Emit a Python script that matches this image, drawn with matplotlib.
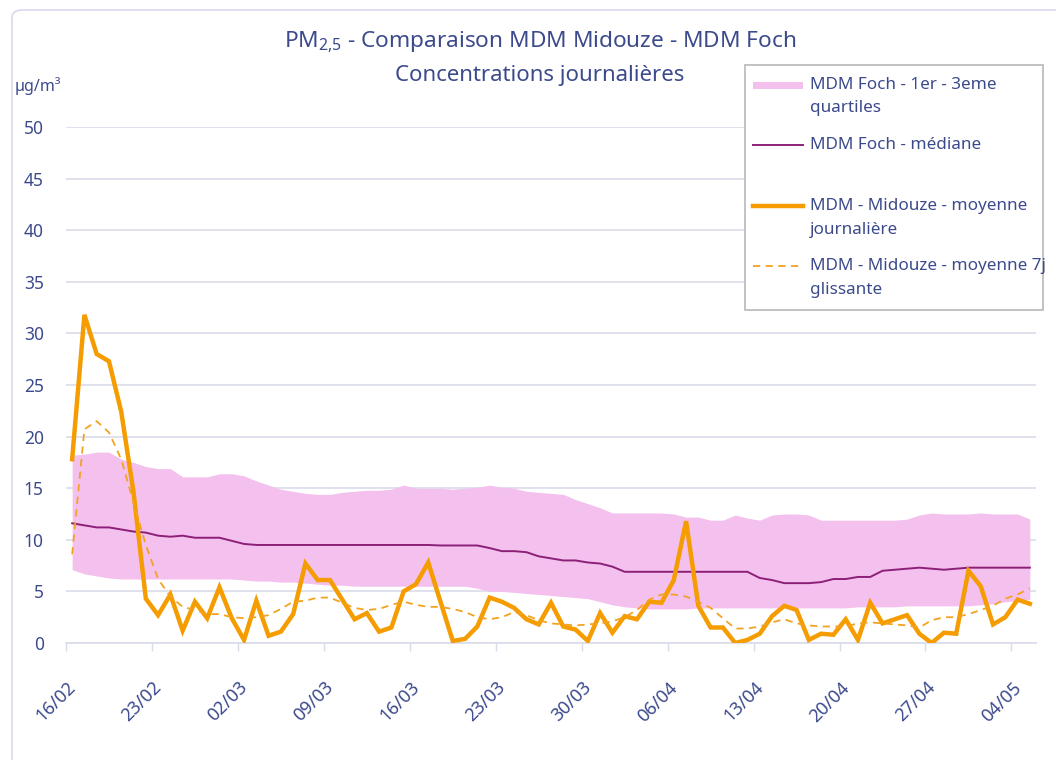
"""PM2,5 daily concentrations: MDM Midouze vs MDM Foch quartile band."""

import matplotlib

matplotlib.use("Agg")
import matplotlib.dates as mdates
import matplotlib.pyplot as plt
import matplotlib.transforms as mtransforms
import pandas as pd
from matplotlib.lines import Line2D
from matplotlib.patches import FancyBboxPatch, Rectangle

plt.rcParams["font.family"] = ["Noto Sans", "DejaVu Sans"]
plt.rcParams["mathtext.fontset"] = "custom"
plt.rcParams["mathtext.rm"] = "Noto Sans"

START = "2021-02-16"
N_DAYS = 79

# MDM Midouze - daily mean (µg/m3)
daily_mean = [
    17.8, 31.8, 28.0, 27.3, 22.4, 14.6, 4.3, 2.7, 4.7, 1.2,
    4.0, 2.4, 5.4, 2.4, 0.3, 4.1, 0.7, 1.1, 2.8, 7.7,
    6.1, 6.1, 4.2, 2.3, 2.9, 1.1, 1.5, 5.0, 5.7, 7.8,
    4.0, 0.2, 0.4, 1.6, 4.4, 4.0, 3.4, 2.3, 1.8, 3.9,
    1.6, 1.3, 0.2, 2.9, 1.0, 2.6, 2.3, 4.0, 3.9, 6.1,
    11.8, 3.6, 1.5, 1.5, 0.0, 0.3, 0.9, 2.6, 3.6, 3.2,
    0.3, 0.9, 0.8, 2.3, 0.3, 3.9, 1.9, 2.3, 2.7, 0.9,
    0.0, 1.0, 0.9, 7.0, 5.5, 1.8, 2.5, 4.2, 3.8,
]

# MDM Midouze - 7-day rolling mean
rolling_7d = [
    8.6, 20.7, 21.5, 20.4, 17.8, 13.6, 9.5, 6.2, 4.5, 3.5,
    3.2, 2.8, 2.8, 2.5, 2.4, 2.5, 2.7, 3.3, 4.0, 4.1,
    4.4, 4.4, 3.9, 3.4, 3.2, 3.3, 3.7, 4.0, 3.7, 3.5,
    3.5, 3.3, 3.0, 2.5, 2.3, 2.5, 3.0, 2.7, 2.2, 1.9,
    1.8, 1.7, 1.8, 1.9, 2.1, 2.5, 3.2, 4.2, 4.7, 4.7,
    4.5, 4.0, 3.4, 2.4, 1.4, 1.4, 1.6, 2.0, 2.3, 1.9,
    1.7, 1.6, 1.6, 1.6, 1.9, 2.0, 1.9, 1.8, 1.7, 1.5,
    2.2, 2.5, 2.5, 2.8, 3.2, 3.6, 4.3, 4.7, 5.3,
]

# MDM Foch - 1st quartile
foch_q1 = [
    7.1, 6.7, 6.5, 6.3, 6.2, 6.2, 6.2, 6.2, 6.2, 6.2,
    6.2, 6.2, 6.2, 6.2, 6.1, 6.0, 6.0, 5.9, 5.9, 5.8,
    5.7, 5.6, 5.6, 5.5, 5.5, 5.5, 5.5, 5.5, 5.5, 5.5,
    5.5, 5.5, 5.5, 5.3, 5.0, 5.0, 4.9, 4.8, 4.7, 4.6,
    4.5, 4.4, 4.3, 4.0, 3.7, 3.5, 3.4, 3.3, 3.3, 3.3,
    3.3, 3.4, 3.4, 3.4, 3.4, 3.4, 3.4, 3.4, 3.4, 3.4,
    3.4, 3.4, 3.4, 3.4, 3.5, 3.5, 3.5, 3.5, 3.6, 3.6,
    3.6, 3.6, 3.6, 3.6, 3.7, 3.8, 4.0, 4.1, 4.2,
]

# MDM Foch - 3rd quartile
foch_q3 = [
    18.2, 18.3, 18.5, 18.5, 17.8, 17.5, 17.1, 16.9, 16.9, 16.1,
    16.1, 16.1, 16.4, 16.4, 16.2, 15.7, 15.3, 14.9, 14.7, 14.5,
    14.4, 14.4, 14.6, 14.7, 14.8, 14.8, 14.9, 15.3, 15.0, 15.0,
    15.0, 14.9, 15.0, 15.1, 15.3, 15.1, 15.0, 14.7, 14.6, 14.5,
    14.4, 13.9, 13.5, 13.1, 12.6, 12.6, 12.6, 12.6, 12.6, 12.5,
    12.2, 12.2, 11.9, 11.9, 12.4, 12.1, 11.9, 12.4, 12.5, 12.5,
    12.4, 11.9, 11.9, 11.9, 11.9, 11.9, 11.9, 11.9, 12.0, 12.4,
    12.6, 12.5, 12.5, 12.5, 12.6, 12.5, 12.5, 12.5, 12.0,
]

# MDM Foch - median
foch_median = [
    11.6, 11.4, 11.2, 11.2, 11.0, 10.8, 10.7, 10.4, 10.3, 10.4,
    10.2, 10.2, 10.2, 9.9, 9.6, 9.5, 9.5, 9.5, 9.5, 9.5,
    9.5, 9.5, 9.5, 9.5, 9.5, 9.5, 9.5, 9.5, 9.5, 9.5,
    9.45, 9.45, 9.45, 9.45, 9.2, 8.9, 8.9, 8.8, 8.4, 8.2,
    8.0, 8.0, 7.8, 7.7, 7.4, 6.9, 6.9, 6.9, 6.9, 6.9,
    6.9, 6.9, 6.9, 6.9, 6.9, 6.9, 6.3, 6.1, 5.8, 5.8,
    5.8, 5.9, 6.2, 6.2, 6.4, 6.4, 7.0, 7.1, 7.2, 7.3,
    7.2, 7.1, 7.2, 7.3, 7.3, 7.3, 7.3, 7.3, 7.3,
]

Y_TICKS = [0, 5, 10, 15, 20, 25, 30, 35, 40, 45, 50]

TITLE = r"$\mathregular{PM_{2{,}5}}$ - Comparaison MDM Midouze - MDM Foch"
SUBTITLE = "Concentrations journalières"
Y_UNIT = "µg/m³"
LEGEND_LABELS = [
    "MDM Foch - 1er - 3eme\nquartiles",
    "MDM Foch - médiane",
    "MDM - Midouze - moyenne\njournalière",
    "MDM - Midouze - moyenne 7j\nglissante",
]

PINK = "#f4c0ee"
PURPLE = "#8c2079"
ORANGE = "#f59c00"
DASH_ORANGE = "#f2a322"
TEXT = "#3c4a8c"
GRID = "#d9dbea"

W, H = 1056, 760


def fx(px: float) -> float:
    return px / W


def fy(py: float) -> float:
    return 1 - py / H


def main() -> None:
    days = pd.date_range(START, periods=N_DAYS, freq="D")
    x = days + pd.Timedelta(hours=12)

    fig = plt.figure(figsize=(W / 100, H / 100), dpi=100)
    fig.add_artist(
        FancyBboxPatch(
            (fx(12), fy(H + 20)), fx(W + 20), fy(10) - fy(H + 20),
            boxstyle="round,pad=0,rounding_size=0.01",
            transform=fig.transFigure, facecolor="none",
            edgecolor="#d9d9ee", linewidth=1.2, zorder=0,
        )
    )

    ax = fig.add_axes([fx(66), fy(643), fx(1036) - fx(66), fy(127) - fy(643)])
    ax.fill_between(x, foch_q1, foch_q3, color=PINK, linewidth=0, zorder=2)
    ax.plot(x, foch_median, color=PURPLE, linewidth=1.4, zorder=3)
    ax.plot(x, daily_mean, color=ORANGE, linewidth=3.2, zorder=4,
            solid_joinstyle="miter")
    ax.plot(x, rolling_7d, color=DASH_ORANGE, linewidth=1.3,
            dashes=(4, 3), zorder=5)

    ax.set_xlim(days[0], days[-1] + pd.Timedelta(days=1))
    ax.set_ylim(0, 50)
    ax.set_yticks(Y_TICKS)
    ax.yaxis.grid(True, color=GRID, linewidth=1.2, zorder=0)
    ax.set_axisbelow(True)
    ax.tick_params(axis="y", length=0, pad=16, labelsize=12.5, labelcolor=TEXT)

    ax.set_xticks(pd.date_range(START, periods=12, freq="7D"))
    ax.xaxis.set_major_formatter(mdates.DateFormatter("%d/%m"))
    ax.tick_params(axis="x", length=6, width=1, color=GRID, pad=4,
                   labelsize=13, labelcolor=TEXT)
    shift = mtransforms.ScaledTranslation(7 / 100, -28 / 100, fig.dpi_scale_trans)
    for lab in ax.get_xticklabels():
        lab.set_rotation(45)
        lab.set_ha("right")
        lab.set_va("center")
        lab.set_rotation_mode("anchor")
        lab.set_transform(lab.get_transform() + shift)

    for side in ("top", "right", "left"):
        ax.spines[side].set_visible(False)
    ax.spines["bottom"].set_color(GRID)
    ax.spines["bottom"].set_linewidth(1.2)

    fig.text(fx(540), fy(42), TITLE, ha="center", va="center",
             fontsize=16.3, color=TEXT)
    fig.text(fx(540), fy(75), SUBTITLE, ha="center", va="center",
             fontsize=16, color=TEXT)
    fig.text(fx(15), fy(86), Y_UNIT, ha="left", va="center",
             fontsize=11.5, color=TEXT)

    # legend, laid out like the spreadsheet one
    fig.add_artist(
        Rectangle((fx(745), fy(310)), fx(1043) - fx(745), fy(65) - fy(310),
                  transform=fig.transFigure, facecolor="white",
                  edgecolor="#b8b8b8", linewidth=1.2, zorder=10)
    )
    fig.add_artist(
        Rectangle((fx(753), fy(89)), fx(50), fy(82) - fy(89),
                  transform=fig.transFigure, facecolor=PINK,
                  edgecolor="none", zorder=11)
    )
    handles = [
        (145, dict(color=PURPLE, linewidth=1.4)),
        (206, dict(color=ORANGE, linewidth=3.2)),
        (266, dict(color=DASH_ORANGE, linewidth=1.3, dashes=(4, 3))),
    ]
    for py, style in handles:
        fig.add_artist(
            Line2D([fx(753), fx(803)], [fy(py), fy(py)],
                   transform=fig.transFigure, zorder=11, **style)
        )
    for label, py in zip(LEGEND_LABELS, [85, 145, 206, 266]):
        for k, line in enumerate(label.split("\n")):
            fig.text(fx(810), fy(py + 23.5 * k), line, ha="left", va="center",
                     fontsize=12.3, color=TEXT, zorder=12)

    fig.savefig("out.png", dpi=100)
    plt.close(fig)


if __name__ == "__main__":
    main()
